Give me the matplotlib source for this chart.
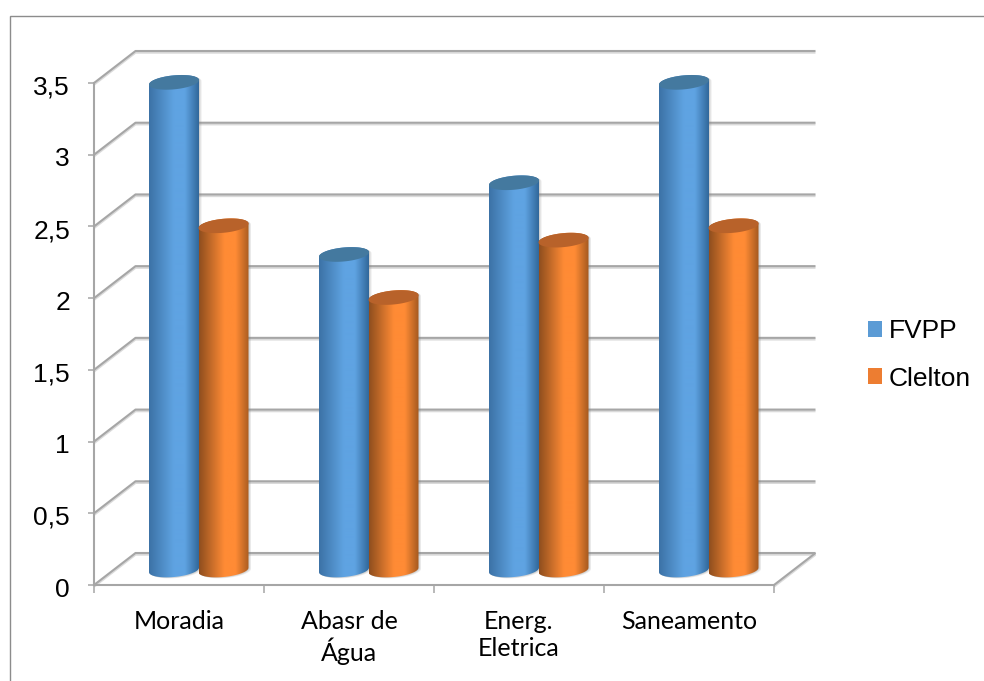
import numpy as np
import matplotlib
matplotlib.use("Agg")
import matplotlib.pyplot as plt
from matplotlib.colors import LinearSegmentedColormap
from matplotlib.patches import Patch, Polygon, Rectangle
from matplotlib.transforms import ScaledTranslation

categories = ["Moradia", "Abasr de\nÁgua", "Energ.\nEletrica", "Saneamento"]
series_names = ["FVPP", "Clelton"]
fvpp = [3.4, 2.2, 2.7, 3.4]
clelton = [2.4, 1.9, 2.3, 2.4]
y_ticks = [0, 0.5, 1, 1.5, 2, 2.5, 3, 3.5]
y_labels = ["0", "0,5", "1", "1,5", "2", "2,5", "3", "3,5"]

W, H = 984, 681
fig = plt.figure(figsize=(W / 100, H / 100), dpi=100, facecolor="white")
ax = fig.add_axes([94 / W, (H - 585) / H, 680 / W, 502 / H])
ax.set_facecolor("none")
XMAX, YMAX = 4, 3.5
PX = XMAX / 680   # data units per pixel, horizontal
PY = YMAX / 502   # data units per pixel, vertical
DEPTH_X, DEPTH_Y = 41.5 * PX, 32 * PY  # offset of the back wall
GRID = "#A6A6A6"
SHADOW = "#DADADA"


def wall_line(xs, ys, z=1):
    ax.plot(xs, np.array(ys) - 1.6 * PY, color=SHADOW, lw=1.6, clip_on=False,
            zorder=z, solid_capstyle="butt")
    ax.plot(xs, ys, color=GRID, lw=1.5, clip_on=False, zorder=z + 0.1,
            solid_capstyle="butt")


# Back-wall gridlines with their diagonals along the side wall
for v in y_ticks:
    wall_line([0, DEPTH_X, XMAX + DEPTH_X], [v, v + DEPTH_Y, v + DEPTH_Y])
# Front edge of the floor
wall_line([XMAX, XMAX + DEPTH_X], [0, DEPTH_Y])


def cylinder(x0, value, low, mid, high, cap, z):
    """Shaded 3D cylinder whose left edge sits at x0 on the floor."""
    half_w, b = 25 * PX, 7 * PY
    tilt = 0.09 * (PY / PX)
    base_y = 15 * PY
    cx = x0 + half_w
    t = np.linspace(0, np.pi, 50)
    xs = cx + half_w * np.cos(t)
    top_y = base_y + value + b * np.sin(t) + tilt * (xs - cx)
    xb = cx - half_w * np.cos(t)
    bot_y = base_y - b * np.sin(t) + tilt * (xb - cx)
    body = np.column_stack([np.r_[xs, xb], np.r_[top_y, bot_y]])

    # Soft halo around the body
    for off, alpha in ((2.5, 0.16), (1.2, 0.22)):
        ax.add_patch(Polygon(body + [off * PX, -off * PY * 0.4], closed=True,
                             fc="#808080", ec="none", alpha=alpha, zorder=z - 0.2,
                             clip_on=False))

    cmap = LinearSegmentedColormap.from_list(
        "shade", [(0, low), (0.5, mid), (0.72, mid), (1, high)])
    grad = np.linspace(0, 1, 200).reshape(1, -1)
    im = ax.imshow(grad, cmap=cmap, aspect="auto", zorder=z, interpolation="bilinear",
                   extent=[cx - half_w, cx + half_w, base_y - 2 * b,
                           base_y + value + 2 * b])
    poly = Polygon(body, closed=True, fc="none", ec="none", transform=ax.transData,
                   clip_on=False)
    ax.add_patch(poly)
    im.set_clip_box(fig.bbox)
    im.set_clip_path(poly)

    # Top face
    t2 = np.linspace(0, 2 * np.pi, 90)
    xc = cx + half_w * np.cos(t2)
    yc = base_y + value + b * np.sin(t2) + tilt * (xc - cx)
    ax.add_patch(Polygon(np.column_stack([xc, yc]), closed=True, fc=cap, ec="none",
                         zorder=z + 0.1, clip_on=False))


BLUE = ("#3C72A6", "#5FA3E2", "#31689B", "#44799F")
ORANGE = ("#8F4E1E", "#FF8B35", "#A4591F", "#B8622A")
for i, (a, b) in enumerate(zip(fvpp, clelton)):
    x_blue = i + 55 * PX
    cylinder(x_blue, a, BLUE[0], BLUE[1], BLUE[2], BLUE[3], 3 + i * 0.01)
    cylinder(x_blue + 49.5 * PX, b, ORANGE[0], ORANGE[1], ORANGE[2], ORANGE[3], 4 + i * 0.01)

ax.set_xlim(0, XMAX)
ax.set_ylim(0, YMAX)

# Axes, ticks and labels
for side in ("top", "right"):
    ax.spines[side].set_visible(False)
for side in ("left", "bottom"):
    ax.spines[side].set_color(GRID)
    ax.spines[side].set_linewidth(1.5)
    ax.spines[side].set_zorder(2)

ax.set_yticks(y_ticks, y_labels, fontfamily="Liberation Sans", fontsize=19, color="black")
ax.tick_params(axis="y", length=4.3, width=1.1, color=GRID, pad=13)
nudge = ScaledTranslation(0, -1.5 / 72, fig.dpi_scale_trans)
for lab in ax.get_yticklabels():
    lab.set_transform(lab.get_transform() + nudge)
ax.set_xticks(range(XMAX + 1), [""] * (XMAX + 1))
ax.set_xticks(np.arange(XMAX) + 0.5, categories, minor=True, fontfamily="Lato",
              fontsize=18, color="black", linespacing=1.2)
ax.tick_params(axis="x", which="major", length=5.8, width=1.1, color=GRID)
ax.tick_params(axis="x", which="minor", length=0, pad=18)

# Legend at the right of the plot
handles = [Patch(fc="#5B9BD5", ec="none"), Patch(fc="#ED7D31", ec="none")]
fig.legend(handles, series_names, loc="center left", bbox_to_anchor=(860 / W, 1 - 355 / H),
           frameon=False, prop={"family": "Liberation Sans", "size": 19},
           handlelength=0.53, handleheight=0.53, handletextpad=0.27, labelspacing=0.88,
           borderpad=0.3, borderaxespad=0)

# Chart frame, cut off by the edges of the image
fig.add_artist(Rectangle((9.5 / W, -0.1), 1.2, 1.1 - 15.5 / H,
                         transform=fig.transFigure, fc="none", ec="#8C8C8C", lw=1.0,
                         zorder=-1))

fig.savefig("out.png", dpi=100, facecolor="white")
